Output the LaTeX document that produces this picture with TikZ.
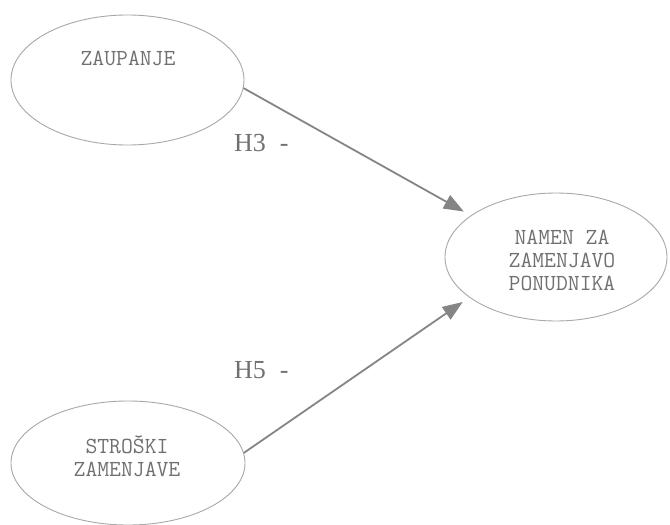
\documentclass[tikz,border=0pt]{standalone}
\usepackage{fontspec}
\setmainfont{Liberation Serif}
\setmonofont{Latin Modern Mono}
\usetikzlibrary{shapes.geometric,arrows.meta}
\definecolor{rim}{HTML}{A8A8A8}
\definecolor{ink}{HTML}{707070}
\definecolor{linkgray}{HTML}{858585}
\tikzset{
  construct/.style={draw=rim, line width=0.9pt, ellipse, inner sep=0pt, fill=white},
  caption/.style={text=ink, font=\ttfamily\fontsize{23}{23}\selectfont, align=center, inner sep=0pt},
  hyp/.style={text=ink, font=\fontsize{26}{28}\selectfont, anchor=west, inner sep=0pt},
  path/.style={draw=linkgray, line width=1.8pt, -{Triangle[length=20pt,width=15pt]}, shorten >=8pt}
}
\begin{document}
\begin{tikzpicture}[x=1pt,y=-1pt]
  \useasboundingbox (0,0) rectangle (670,525);
  % constructs
  \node[construct, minimum width=233pt, minimum height=130pt] (trust) at (127.5,80) {};
  \node[construct, minimum width=222pt, minimum height=128pt] (intent) at (556,257) {};
  \node[construct, minimum width=234pt, minimum height=124pt] (cost) at (128,463) {};
  % captions
  \node[caption] (trustlbl) at (128,58) {ZAUPANJE};
  \node[caption] (intentlbl) at (562,260) {NAMEN ZA\\ZAMENJAVO\\PONUDNIKA};
  \node[caption] (costlbl) at (127,456) {STROŠKI\\ZAMENJAVE};
  % hypothesised paths
  \draw[path] (trust.-4) -- (intent.154);
  \draw[path] (cost.5) -- (intent.205);
  % hypothesis labels
  \node[hyp] (h3) at (234,143) {H3\hspace{14pt}-};
  \node[hyp] (h5) at (234,370) {H5\hspace{14pt}-};
\end{tikzpicture}
\end{document}
